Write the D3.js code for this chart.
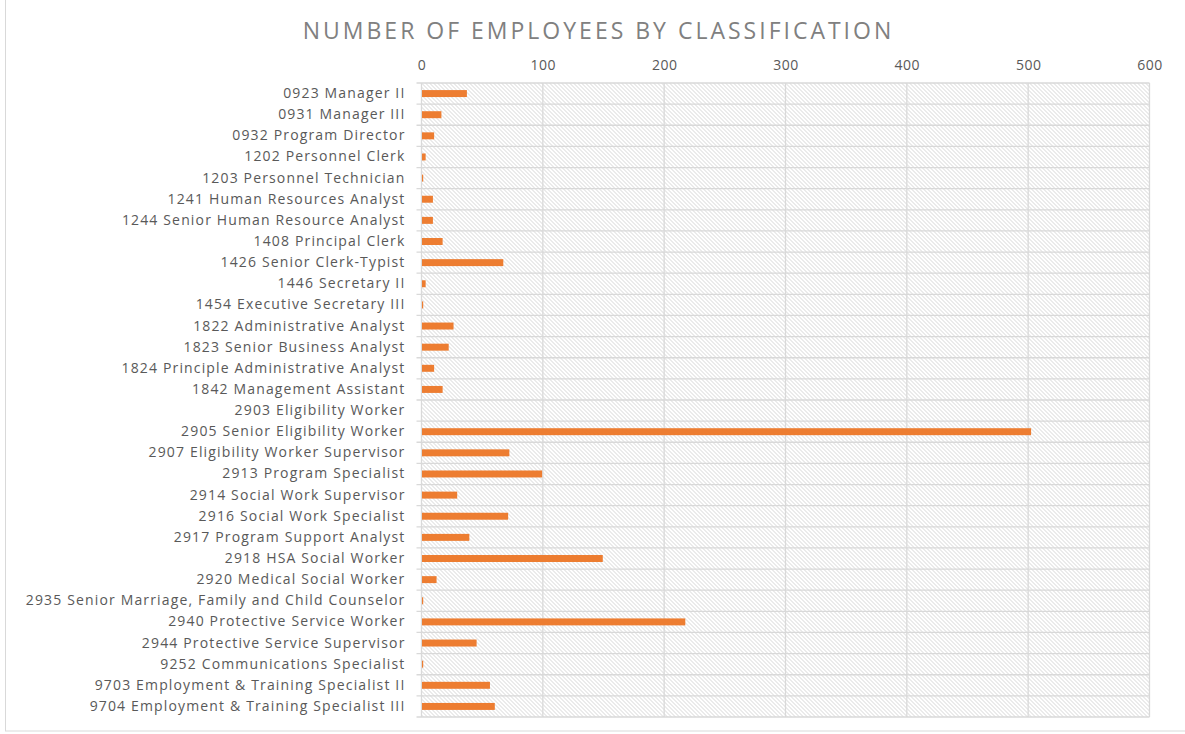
<!DOCTYPE html>
<html>
<head>
<meta charset="utf-8">
<script src="https://cdn.jsdelivr.net/npm/d3@7"></script>
<style>
  body { margin: 0; background: #fff; }
  svg { display: block; }
</style>
</head>
<body>
<svg id="barChart"></svg>
<script>
// chart data
const title = 'NUMBER OF EMPLOYEES BY CLASSIFICATION';

const categories = [
  '0923 Manager II',
  '0931 Manager III',
  '0932 Program Director',
  '1202 Personnel Clerk',
  '1203 Personnel Technician',
  '1241 Human Resources Analyst',
  '1244 Senior Human Resource Analyst',
  '1408 Principal Clerk',
  '1426 Senior Clerk-Typist',
  '1446 Secretary II',
  '1454 Executive Secretary III',
  '1822 Administrative Analyst',
  '1823 Senior Business Analyst',
  '1824 Principle Administrative Analyst',
  '1842 Management Assistant',
  '2903 Eligibility Worker',
  '2905 Senior Eligibility Worker',
  '2907 Eligibility Worker Supervisor',
  '2913 Program Specialist',
  '2914 Social Work Supervisor',
  '2916 Social Work Specialist',
  '2917 Program Support Analyst',
  '2918 HSA Social Worker',
  '2920 Medical Social Worker',
  '2935 Senior Marriage, Family and Child Counselor',
  '2940 Protective Service Worker',
  '2944 Protective Service Supervisor',
  '9252 Communications Specialist',
  '9703 Employment & Training Specialist II',
  '9704 Employment & Training Specialist III'
];

const employees = [
  37, 16, 10, 3, 1, 9, 9, 17, 67, 3,
  1, 26, 22, 10, 17, 0, 502, 72, 99, 29,
  71, 39, 149, 12, 1, 217, 45, 1, 56, 60
];

const xTicks = [0, 100, 200, 300, 400, 500, 600];

const data = categories.map((c, i) => ({ x: c, y: employees[i] }));

function draw() {
  const svgWidth = 1185;
  const svgHeight = 734;
  const margin = { top: 83, right: 35, bottom: 17, left: 421.5 };
  const width = 1149.5 - margin.left;
  const height = svgHeight - margin.top - margin.bottom;
  const font = '"Open Sans", sans-serif';

  const svg = d3.select('#barChart')
    .attr('width', svgWidth)
    .attr('height', svgHeight);

  // hatched plot background
  const defs = svg.append('defs');
  const pat = defs.append('pattern')
    .attr('id', 'hatch')
    .attr('patternUnits', 'userSpaceOnUse')
    .attr('width', 4)
    .attr('height', 4);
  pat.append('rect').attr('width', 4).attr('height', 4).attr('fill', '#fff');
  pat.append('path')
    .attr('d', 'M-1,-1 L5,5 M-1,3 L1,5 M3,-1 L5,1')
    .attr('stroke', '#d6d6d6')
    .attr('stroke-width', 1);

  // chart border
  svg.append('rect')
    .attr('x', 5.5)
    .attr('y', -2)
    .attr('width', svgWidth)
    .attr('height', 733)
    .attr('fill', 'none')
    .attr('stroke', '#d9d9d9')
    .attr('stroke-width', 1);

  svg.append('text')
    .attr('x', 598.5)
    .attr('y', 39)
    .attr('text-anchor', 'middle')
    .attr('font-family', font)
    .attr('font-size', 23)
    .attr('letter-spacing', 3)
    .attr('fill', '#808080')
    .text(title);

  const g = svg.append('g')
    .attr('transform', `translate(${margin.left}, ${margin.top})`);

  const xScale = d3.scaleLinear()
    .domain([0, 600])
    .range([0, width]);
  const yScale = d3.scaleBand()
    .domain(categories)
    .range([0, height])
    .paddingInner(0.67)
    .paddingOuter(0.335);
  const rowScale = d3.scaleBand()
    .domain(categories)
    .range([0, height]);

  g.append('rect')
    .attr('width', width)
    .attr('height', height)
    .attr('fill', 'url(#hatch)');

  // horizontal gridlines at category boundaries
  const bounds = categories.map(c => rowScale(c)).concat([height]);
  g.selectAll('.hgrid')
    .data(bounds)
    .enter()
    .append('line')
      .attr('class', 'hgrid')
      .attr('x1', -5)
      .attr('x2', width)
      .attr('y1', d => d)
      .attr('y2', d => d)
      .attr('stroke', '#d9d9d9')
      .attr('stroke-width', 1.3);

  // vertical gridlines
  g.selectAll('.vgrid')
    .data(xTicks)
    .enter()
    .append('line')
      .attr('class', 'vgrid')
      .attr('x1', d => xScale(d))
      .attr('x2', d => xScale(d))
      .attr('y1', 0)
      .attr('y2', height)
      .attr('stroke', '#d9d9d9')
      .attr('stroke-width', 1.3);

  // top axis
  const xAxis = d3.axisTop(xScale).tickValues(xTicks).tickSize(0).tickPadding(13);
  const ax = g.append('g').call(xAxis);
  ax.select('.domain').remove();
  ax.selectAll('text')
    .attr('font-family', font)
    .attr('font-size', 14)
    .attr('letter-spacing', 0.5)
    .attr('fill', '#595959');

  // category axis
  const yAxis = d3.axisLeft(rowScale).tickSize(0).tickPadding(16);
  const ay = g.append('g').call(yAxis);
  ay.select('.domain').remove();
  ay.selectAll('text')
    .attr('font-family', font)
    .attr('font-size', 14)
    .attr('letter-spacing', 1.15)
    .attr('fill', '#595959');

  g.selectAll('.bar')
    .data(data)
    .enter()
    .append('rect')
      .attr('class', 'bar')
      .attr('x', xScale(0) + 0.5)
      .attr('y', d => yScale(d.x))
      .attr('width', d => Math.max(0, xScale(d.y) - xScale(0)))
      .attr('height', yScale.bandwidth())
      .attr('fill', '#ED7D31');
}

draw();
</script>
</body>
</html>
